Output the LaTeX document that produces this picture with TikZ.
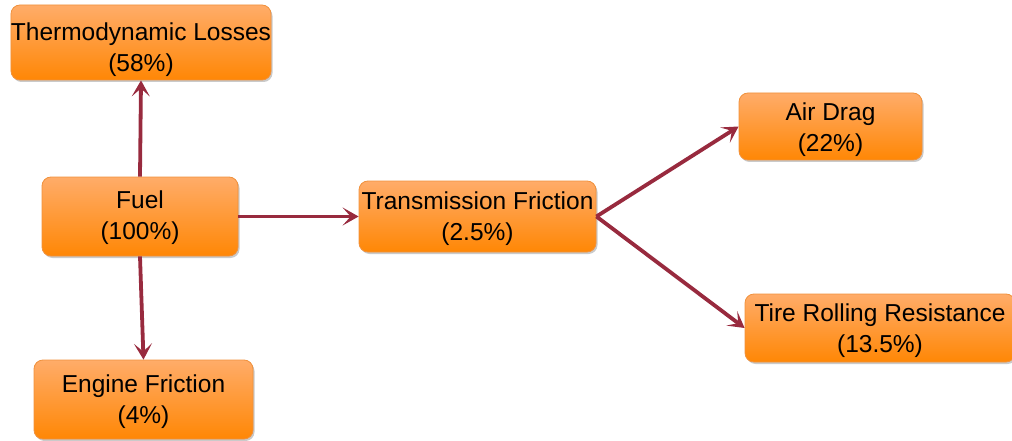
\documentclass[tikz,border=0pt]{standalone}
\usepackage{fontspec}
\setmainfont{Liberation Sans}
\usetikzlibrary{arrows.meta,shadows}
\definecolor{arrowred}{RGB}{152,42,62}
\definecolor{boxtop}{RGB}{255,172,105}
\definecolor{boxbot}{RGB}{255,135,5}
\definecolor{boxedge}{RGB}{240,145,60}
\newcommand{\lowr}[1]{\rule{0pt}{#1pt}}
\begin{document}
\begin{tikzpicture}[x=1pt,y=-1pt,
  box/.style={draw=boxedge, line width=0.8pt, rounded corners=9pt,
    top color=boxtop, bottom color=boxbot, align=center, inner sep=0pt,
    font=\fontsize{24.5}{31}\selectfont,
    drop shadow={shadow xshift=1.5pt, shadow yshift=-2pt, opacity=0.35, fill=black!60}},
  flow/.style={draw=arrowred, line width=3.8pt, -{Stealth[length=16pt,width=18pt,inset=8pt]}}]
\useasboundingbox (0,0) rectangle (1012,441);
\node[box, minimum width=260pt, minimum height=75pt] (thermo) at (141,42.5) {\lowr{32}Thermodynamic Losses\\(58\%)};
\node[box, minimum width=196pt, minimum height=79pt] (fuel) at (140,216.5) {\lowr{20}Fuel\\(100\%)};
\node[box, minimum width=219pt, minimum height=79pt] (engine) at (143.5,399.5) {\lowr{22}Engine Friction\\(4\%)};
\node[box, minimum width=237pt, minimum height=71pt] (trans) at (477.5,216.5) {\lowr{22}Transmission Friction\\(2.5\%)};
\node[box, minimum width=183pt, minimum height=67pt] (air) at (830.5,126.5) {\lowr{24}Air Drag\\(22\%)};
\node[box, minimum width=270pt, minimum height=68pt] (tire) at (880,328) {\lowr{24}Tire Rolling Resistance\\(13.5\%)};
\draw[flow] (fuel.north) -- (thermo.south);
\draw[flow] (fuel.south) -- (engine.north);
\draw[flow] (fuel.east) -- (trans.west);
\draw[flow] (trans.east) -- (air.west);
\draw[flow] (trans.east) -- (tire.west);
\end{tikzpicture}
\end{document}
